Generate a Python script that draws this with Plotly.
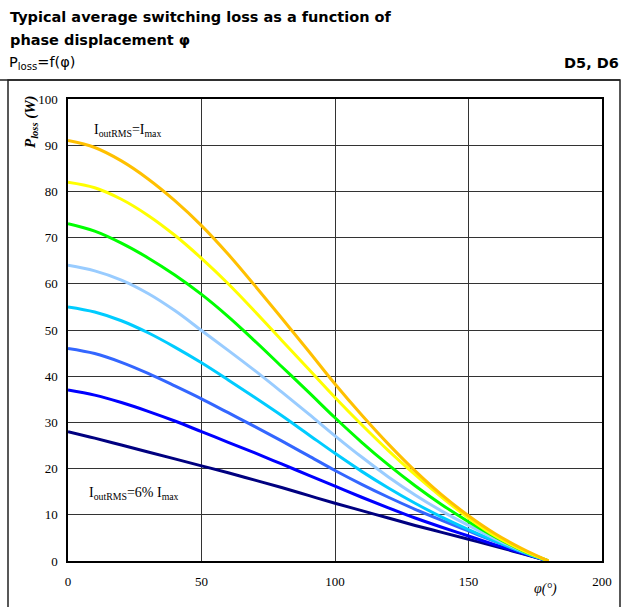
import plotly.graph_objects as go

phi = [0, 10, 20, 30, 40, 50, 60, 70, 80, 90, 100, 110, 120, 130, 140, 150, 160, 170, 180]

p_100 = [91, 89.5, 86.6, 82.7, 78.0, 72.6, 66.4, 59.6, 52.6, 45.5, 38.3, 31.6, 25.3, 19.5, 14.3, 9.8, 5.9, 2.7, 0]
p_90 = [82, 80.8, 78.3, 74.8, 70.5, 65.5, 60.0, 54.0, 47.8, 41.6, 35.4, 29.5, 23.9, 18.7, 13.8, 9.3, 5.4, 2.4, 0]
p_80 = [73, 71.4, 68.8, 65.6, 61.9, 57.7, 52.9, 47.6, 42.1, 36.6, 31.0, 25.7, 20.8, 16.3, 12.2, 8.5, 5.2, 2.3, 0]
p_70 = [64, 62.8, 60.8, 57.9, 54.2, 49.9, 45.6, 41.2, 36.6, 31.9, 27.1, 22.5, 18.2, 14.3, 10.8, 7.7, 4.8, 2.2, 0]
p_60 = [55, 53.9, 52.0, 49.4, 46.3, 42.9, 39.2, 35.4, 31.5, 27.4, 23.3, 19.4, 15.8, 12.5, 9.5, 6.8, 4.3, 2.0, 0]
p_50 = [46, 44.9, 43.0, 40.6, 37.9, 35.1, 32.1, 29.1, 26.0, 22.8, 19.6, 16.6, 13.8, 11.2, 8.8, 6.5, 4.2, 2.0, 0]
p_40 = [37, 35.9, 34.3, 32.4, 30.3, 28.0, 25.7, 23.4, 21.0, 18.6, 16.2, 13.8, 11.5, 9.3, 7.3, 5.4, 3.5, 1.7, 0]
p_6 = [28, 26.6, 25.1, 23.6, 22.1, 20.6, 19.1, 17.5, 15.9, 14.2, 12.5, 10.9, 9.3, 7.7, 6.2, 4.7, 3.2, 1.6, 0]

series = [p_6, p_40, p_50, p_60, p_70, p_80, p_90, p_100]
colors = ["#000080", "#0000FF", "#3366FF", "#00CCFF", "#99CCFF", "#00FF00", "#FFFF00", "#FFC000"]

x_ticks = [0, 50, 100, 150, 200]
y_ticks = [0, 10, 20, 30, 40, 50, 60, 70, 80, 90, 100]

W, H = 631, 607
L, R, T, B = 68, 29, 99, 46
pw, ph = W - L - R, H - T - B


def px(x):
    return (x - L) / pw


def py(y):
    return (H - B - y) / ph


fig = go.Figure()
for s, c in zip(series, colors):
    fig.add_trace(go.Scatter(x=phi, y=s, mode="lines",
                             line=dict(color=c, width=3, shape="spline", smoothing=1.0),
                             showlegend=False, hoverinfo="skip"))

serif = "Liberation Serif"
fig.update_layout(
    width=W, height=H,
    margin=dict(l=L, r=R, t=T, b=B),
    paper_bgcolor="white", plot_bgcolor="white",
    showlegend=False,
    xaxis=dict(range=[0, 200], tickvals=x_ticks, showgrid=True, gridcolor="#333333", gridwidth=1,
               showline=True, mirror=True, linecolor="black", linewidth=1.5, zeroline=False,
               ticks="", tickfont=dict(family=serif, size=13, color="black"), ticklabelstandoff=8),
    yaxis=dict(range=[0, 100], tickvals=y_ticks, showgrid=True, gridcolor="#333333", gridwidth=1,
               showline=True, mirror=True, linecolor="black", linewidth=1.5, zeroline=False,
               ticks="", tickfont=dict(family=serif, size=13, color="black"), ticklabelstandoff=6),
)

# outer frame and header underline
fig.add_shape(type="rect", xref="paper", yref="paper", x0=px(8), x1=px(620), y0=py(620), y1=py(80),
              line=dict(color="#222222", width=1.5), layer="below")
fig.add_shape(type="line", xref="paper", yref="paper", x0=px(0), x1=px(620), y0=py(80), y1=py(80),
              line=dict(color="#222222", width=1.5))

sans = "DejaVu Sans"
fig.add_annotation(xref="paper", yref="paper", x=px(8), y=py(17), xanchor="left", yanchor="middle",
                   text="<b>Typical average switching loss as a function of</b>", showarrow=False,
                   font=dict(family=sans, size=14.5, color="black"))
fig.add_annotation(xref="paper", yref="paper", x=px(8), y=py(40), xanchor="left", yanchor="middle",
                   text="<b>phase displacement φ</b>", showarrow=False,
                   font=dict(family=sans, size=14.5, color="black"))
fig.add_annotation(xref="paper", yref="paper", x=px(7), y=py(63), xanchor="left", yanchor="middle",
                   text="P<sub>loss</sub>=f(φ)", showarrow=False,
                   font=dict(family=sans, size=14.5, color="black"))
fig.add_annotation(xref="paper", yref="paper", x=px(621), y=py(63), xanchor="right", yanchor="middle",
                   text="<b>D5, D6</b>", showarrow=False,
                   font=dict(family=sans, size=14.5, color="black"))

# axis titles
fig.add_annotation(xref="paper", yref="paper", x=px(31), y=py(122), xanchor="center", yanchor="middle",
                   textangle=-90, text="<b><i>P<sub>loss</sub> (W)</i></b>", showarrow=False,
                   font=dict(family=serif, size=15, color="black"))
fig.add_annotation(xref="paper", yref="paper", x=px(545), y=py(589), xanchor="center", yanchor="middle",
                   text="<i>φ(°)</i>", showarrow=False,
                   font=dict(family=serif, size=14, color="black"))

# curve labels
fig.add_annotation(xref="paper", yref="paper", x=px(92), y=py(130), xanchor="left", yanchor="middle",
                   text="I<sub>outRMS</sub>=I<sub>max</sub>", showarrow=False,
                   font=dict(family=serif, size=14, color="black"))
fig.add_annotation(xref="paper", yref="paper", x=px(87), y=py(493), xanchor="left", yanchor="middle",
                   text="I<sub>outRMS</sub>=6% I<sub>max</sub>", showarrow=False,
                   font=dict(family=serif, size=14, color="black"))

fig.write_html("out.html")
